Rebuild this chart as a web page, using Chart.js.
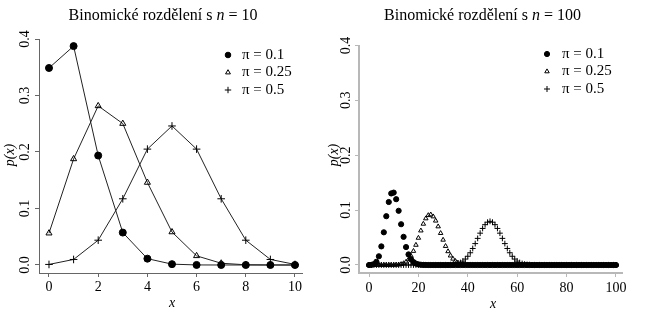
<!DOCTYPE html>
<html>
<head>
<meta charset="utf-8">
<script src="https://cdn.jsdelivr.net/npm/chart.js@4/dist/chart.umd.min.js"></script>
<style>
  html, body { margin: 0; padding: 0; background: #fff; }
  #wrap { position: relative; width: 652px; height: 323px; background: #fff; }
  .panel { position: absolute; top: 0; width: 326px; height: 323px; }
  #probe { position: absolute; left: -1000px; top: 0; font-family: "Liberation Serif"; }
</style>
</head>
<body>
<div id="wrap">
  <div class="panel" style="left:0"><canvas id="left" width="326" height="323"></canvas></div>
  <div class="panel" style="left:326px"><canvas id="right" width="326" height="323"></canvas></div>
</div>
<span id="probe">Binomické <i>n</i> π</span>
<script>
// Binomial probabilities p(x), n = 10
const x10 = [0, 1, 2, 3, 4, 5, 6, 7, 8, 9, 10];
const p10_010 = [0.3487, 0.3874, 0.1937, 0.0574, 0.0112, 0.0015, 0.0001, 0.0000, 0.0000, 0.0000, 0.0000];
const p10_025 = [0.0563, 0.1877, 0.2816, 0.2503, 0.1460, 0.0584, 0.0162, 0.0031, 0.0004, 0.0000, 0.0000];
const p10_050 = [0.0010, 0.0098, 0.0439, 0.1172, 0.2051, 0.2461, 0.2051, 0.1172, 0.0439, 0.0098, 0.0010];

// Binomial probabilities p(x), n = 100
const x100 = [
  0, 1, 2, 3, 4, 5, 6, 7, 8, 9, 10, 11, 12, 13, 14, 15, 16, 17, 18, 19,
  20, 21, 22, 23, 24, 25, 26, 27, 28, 29, 30, 31, 32, 33, 34, 35, 36, 37, 38, 39,
  40, 41, 42, 43, 44, 45, 46, 47, 48, 49, 50, 51, 52, 53, 54, 55, 56, 57, 58, 59,
  60, 61, 62, 63, 64, 65, 66, 67, 68, 69, 70, 71, 72, 73, 74, 75, 76, 77, 78, 79,
  80, 81, 82, 83, 84, 85, 86, 87, 88, 89, 90, 91, 92, 93, 94, 95, 96, 97, 98, 99, 100
];
const p100_010 = [
  0.0000, 0.0003, 0.0016, 0.0059, 0.0159, 0.0339, 0.0596, 0.0889, 0.1148, 0.1304,
  0.1319, 0.1199, 0.0988, 0.0743, 0.0513, 0.0327, 0.0193, 0.0106, 0.0054, 0.0026,
  0.0012, 0.0005, 0.0002, 0.0001, 0.0000, 0.0000, 0.0000, 0.0000, 0.0000, 0.0000,
  0.0000, 0.0000, 0.0000, 0.0000, 0.0000, 0.0000, 0.0000, 0.0000, 0.0000, 0.0000,
  0.0000, 0.0000, 0.0000, 0.0000, 0.0000, 0.0000, 0.0000, 0.0000, 0.0000, 0.0000,
  0.0000, 0.0000, 0.0000, 0.0000, 0.0000, 0.0000, 0.0000, 0.0000, 0.0000, 0.0000,
  0.0000, 0.0000, 0.0000, 0.0000, 0.0000, 0.0000, 0.0000, 0.0000, 0.0000, 0.0000,
  0.0000, 0.0000, 0.0000, 0.0000, 0.0000, 0.0000, 0.0000, 0.0000, 0.0000, 0.0000,
  0.0000, 0.0000, 0.0000, 0.0000, 0.0000, 0.0000, 0.0000, 0.0000, 0.0000, 0.0000,
  0.0000, 0.0000, 0.0000, 0.0000, 0.0000, 0.0000, 0.0000, 0.0000, 0.0000, 0.0000,
  0.0000
];
const p100_025 = [
  0.0000, 0.0000, 0.0000, 0.0000, 0.0000, 0.0000, 0.0000, 0.0000, 0.0000, 0.0000,
  0.0001, 0.0003, 0.0006, 0.0014, 0.0030, 0.0057, 0.0100, 0.0165, 0.0254, 0.0365,
  0.0493, 0.0626, 0.0749, 0.0847, 0.0906, 0.0918, 0.0883, 0.0806, 0.0701, 0.0580,
  0.0458, 0.0344, 0.0248, 0.0170, 0.0112, 0.0070, 0.0042, 0.0024, 0.0014, 0.0007,
  0.0004, 0.0002, 0.0001, 0.0000, 0.0000, 0.0000, 0.0000, 0.0000, 0.0000, 0.0000,
  0.0000, 0.0000, 0.0000, 0.0000, 0.0000, 0.0000, 0.0000, 0.0000, 0.0000, 0.0000,
  0.0000, 0.0000, 0.0000, 0.0000, 0.0000, 0.0000, 0.0000, 0.0000, 0.0000, 0.0000,
  0.0000, 0.0000, 0.0000, 0.0000, 0.0000, 0.0000, 0.0000, 0.0000, 0.0000, 0.0000,
  0.0000, 0.0000, 0.0000, 0.0000, 0.0000, 0.0000, 0.0000, 0.0000, 0.0000, 0.0000,
  0.0000, 0.0000, 0.0000, 0.0000, 0.0000, 0.0000, 0.0000, 0.0000, 0.0000, 0.0000,
  0.0000
];
const p100_050 = [
  0.0000, 0.0000, 0.0000, 0.0000, 0.0000, 0.0000, 0.0000, 0.0000, 0.0000, 0.0000,
  0.0000, 0.0000, 0.0000, 0.0000, 0.0000, 0.0000, 0.0000, 0.0000, 0.0000, 0.0000,
  0.0000, 0.0000, 0.0000, 0.0000, 0.0000, 0.0000, 0.0000, 0.0000, 0.0000, 0.0000,
  0.0000, 0.0001, 0.0002, 0.0005, 0.0009, 0.0016, 0.0027, 0.0045, 0.0071, 0.0108,
  0.0159, 0.0223, 0.0301, 0.0390, 0.0485, 0.0580, 0.0666, 0.0735, 0.0780, 0.0796,
  0.0780, 0.0735, 0.0666, 0.0580, 0.0485, 0.0390, 0.0301, 0.0223, 0.0159, 0.0108,
  0.0071, 0.0045, 0.0027, 0.0016, 0.0009, 0.0005, 0.0002, 0.0001, 0.0000, 0.0000,
  0.0000, 0.0000, 0.0000, 0.0000, 0.0000, 0.0000, 0.0000, 0.0000, 0.0000, 0.0000,
  0.0000, 0.0000, 0.0000, 0.0000, 0.0000, 0.0000, 0.0000, 0.0000, 0.0000, 0.0000,
  0.0000, 0.0000, 0.0000, 0.0000, 0.0000, 0.0000, 0.0000, 0.0000, 0.0000, 0.0000,
  0.0000
];

// Axis ticks and labels
const yTicks = [0, 0.1, 0.2, 0.3, 0.4];
const yTickLabels = ['0.0', '0.1', '0.2', '0.3', '0.4'];
const xTicks10 = [0, 2, 4, 6, 8, 10];
const xTicks100 = [0, 20, 40, 60, 80, 100];
const seriesNames = ['\u03c0 = 0.1', '\u03c0 = 0.25', '\u03c0 = 0.5'];

const SERIF = '"Liberation Serif", "Times New Roman", Times, serif';

function toPoints(xs, ys) {
  return ys.map((y, i) => ({ x: xs[i], y: y }));
}

// Titles, axis labels, tick labels and legend drawn over the chart
const annotate = {
  id: 'annotate',
  afterDraw(chart, args, o) {
    const ctx = chart.ctx;
    const xs = chart.scales.x, ys = chart.scales.y;
    ctx.save();
    ctx.fillStyle = '#000';

    // title with italic n
    const parts = [
      { t: 'Binomick\u00e9 rozd\u011blen\u00ed s ', f: '16px ' + SERIF },
      { t: 'n', f: 'italic 16px ' + SERIF },
      { t: ' = ' + o.n, f: '16px ' + SERIF }
    ];
    let total = 0;
    parts.forEach(p => { ctx.font = p.f; p.w = ctx.measureText(p.t).width; total += p.w; });
    let tx = o.titleX - total / 2;
    ctx.textBaseline = 'alphabetic';
    ctx.textAlign = 'left';
    parts.forEach(p => { ctx.font = p.f; ctx.fillText(p.t, tx, o.titleY); tx += p.w; });

    // x tick labels
    ctx.font = '14px ' + SERIF;
    ctx.textAlign = 'center';
    ctx.textBaseline = 'middle';
    o.xTicks.forEach(v => ctx.fillText(String(v), xs.getPixelForValue(v), o.xLabY));

    // y tick labels, rotated
    yTicks.forEach((v, i) => {
      ctx.save();
      ctx.translate(o.yLabX, ys.getPixelForValue(v));
      ctx.rotate(-Math.PI / 2);
      ctx.fillText(yTickLabels[i], 0, 0);
      ctx.restore();
    });

    // x axis title
    ctx.font = 'italic 14px ' + SERIF;
    ctx.fillText('x', o.xTitleX, o.xTitleY);

    // y axis title p(x)
    ctx.save();
    ctx.translate(o.yTitleX, o.yTitleY);
    ctx.rotate(-Math.PI / 2);
    ctx.fillText('p(x)', 0, 0);
    ctx.restore();

    // legend
    ctx.textAlign = 'left';
    chart.data.datasets.forEach((ds, i) => {
      const y = o.legY + i * o.legStep;
      ctx.strokeStyle = '#000';
      ctx.lineWidth = 1;
      ctx.fillStyle = i === 0 ? '#000' : 'rgba(0,0,0,0)';
      Chart.helpers.drawPoint(ctx, {
        pointStyle: ds.pointStyle, radius: o.legR[i], borderWidth: 1, rotation: 0
      }, o.legMarkX, y);
      ctx.fillStyle = '#000';
      ctx.font = '15px ' + SERIF;
      ctx.fillText(seriesNames[i], o.legTextX, y);
    });
    ctx.restore();
  }
};

function makeScales(xMin, xMax, xTk, yMin, axisColor, axisWidth, yWidth) {
  const common = (tk) => ({
    type: 'linear',
    afterBuildTicks: s => { s.ticks = tk.map(v => ({ value: v })); },
    ticks: { display: false },
    grid: { drawOnChartArea: false, drawTicks: true, tickLength: 4, color: axisColor, lineWidth: 1 },
    border: { display: true, color: axisColor, width: axisWidth }
  });
  return {
    x: Object.assign(common(xTk), { min: xMin, max: xMax, afterFit: s => { s.height = 50; } }),
    y: Object.assign(common(yTicks), { min: yMin, max: 0.4, afterFit: s => { s.width = yWidth; } })
  };
}

function datasets(xs, a, b, c, r, lines) {
  const base = {
    borderColor: '#222', borderWidth: 1, showLine: lines, tension: 0,
    pointBorderColor: '#000', pointBorderWidth: 1, pointHoverRadius: r
  };
  return [
    Object.assign({}, base, { label: seriesNames[0], data: toPoints(xs, a), pointStyle: 'circle',
      pointRadius: r, pointBackgroundColor: '#000' }),
    Object.assign({}, base, { label: seriesNames[1], data: toPoints(xs, b), pointStyle: 'triangle',
      pointRadius: r, pointBackgroundColor: 'rgba(0,0,0,0)' }),
    Object.assign({}, base, { label: seriesNames[2], data: toPoints(xs, c), pointStyle: 'cross',
      pointRadius: r + 0.3, pointBackgroundColor: 'rgba(0,0,0,0)' })
  ];
}

const baseOpts = {
  responsive: false,
  animation: false,
  events: [],
  plugins: { legend: { display: false }, tooltip: { enabled: false } }
};

function build() {
  new Chart(document.getElementById('left'), {
    type: 'scatter',
    data: { datasets: datasets(x10, p10_010, p10_025, p10_050, 3.5, true) },
    options: Object.assign({}, baseOpts, {
      layout: { padding: { top: 39, right: 24, left: 0, bottom: 0 } },
      scales: makeScales(-0.4065, 10.285, xTicks10, -0.01416, '#666', 1, 39),
      plugins: Object.assign({}, baseOpts.plugins, {
        annotate: {
          n: 10, titleX: 163, titleY: 20, xTicks: xTicks10, xLabY: 287, yLabX: 25,
          xTitleX: 172, xTitleY: 303, yTitleX: 10, yTitleY: 155,
          legY: 55, legStep: 17.5, legMarkX: 228, legTextX: 242, legR: [2.8, 2.8, 3.2]
        }
      })
    }),
    plugins: [annotate]
  });

  new Chart(document.getElementById('right'), {
    type: 'scatter',
    data: { datasets: datasets(x100, p100_010, p100_025, p100_050, 2.6, false) },
    options: Object.assign({}, baseOpts, {
      layout: { padding: { top: 45.5, right: 30, left: 0, bottom: 0 } },
      scales: makeScales(-4.05, 102.43, xTicks100, -0.01458, '#b8b8b8', 2, 33),
      plugins: Object.assign({}, baseOpts.plugins, {
        annotate: {
          n: 100, titleX: 156.5, titleY: 20, xTicks: xTicks100, xLabY: 288, yLabX: 20,
          xTitleX: 167, xTitleY: 304, yTitleX: 8, yTitleY: 155,
          legY: 54, legStep: 17.5, legMarkX: 221, legTextX: 236, legR: [2.6, 2.6, 3]
        }
      })
    }),
    plugins: [annotate]
  });
}

// make sure the serif face is ready before the canvases are painted
Promise.all([
  document.fonts.load('16px "Liberation Serif"'),
  document.fonts.load('italic 16px "Liberation Serif"')
]).catch(() => {}).then(build);
</script>
</body>
</html>
